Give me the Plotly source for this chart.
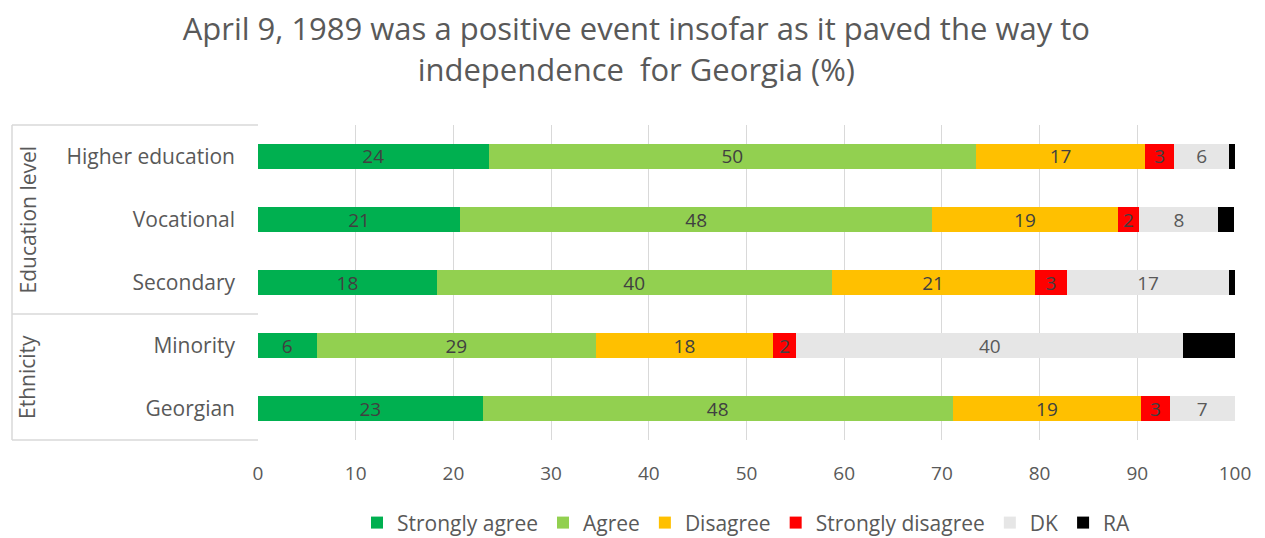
import plotly.graph_objects as go

categories = ["Georgian", "Minority", "Secondary", "Vocational", "Higher education"]
series_names = ["Strongly agree", "Agree", "Disagree", "Strongly disagree", "DK", "RA"]
strongly_agree = [23.0, 6.0, 18.3, 20.7, 23.6]
agree = [48.1, 28.6, 40.4, 48.3, 49.9]
disagree = [19.3, 18.1, 20.8, 19.0, 17.3]
strongly_disagree = [2.9, 2.4, 3.3, 2.2, 3.0]
dk = [6.7, 39.6, 16.6, 8.1, 5.6]
ra = [0.0, 5.3, 0.6, 1.6, 0.6]
values = [strongly_agree, agree, disagree, strongly_disagree, dk, ra]
colors = ["#00B050", "#92D050", "#FFC000", "#FF0000", "#E6E6E6", "#000000"]
text_colors = ["#404040", "#404040", "#404040", "#404040", "#595959", "#404040"]
x_ticks = [0, 10, 20, 30, 40, 50, 60, 70, 80, 90, 100]
title = "April 9, 1989 was a positive event insofar as it paved the way to<br>independence  for Georgia (%)"

FONT = "Open Sans"
fig = go.Figure()
for name, vals, col, tcol in zip(series_names, values, colors, text_colors):
    txt = [f"{round(v)}" if name != "RA" and v > 0 else "" for v in vals]
    fig.add_trace(go.Bar(
        y=categories, x=vals, name=name, orientation="h",
        marker=dict(color=col, line=dict(width=0)),
        text=txt, textposition="inside", insidetextanchor="middle",
        textangle=0, constraintext="none",
        textfont=dict(family=FONT, size=19, color=tcol),
        hoverinfo="x+name",
    ))

fig.update_layout(
    barmode="stack", bargap=0.59,
    width=1265, height=538,
    margin=dict(l=258, r=30, t=125, b=98),
    plot_bgcolor="white", paper_bgcolor="white",
    font=dict(family=FONT, color="#595959"),
    title=dict(text=title, x=0.503, xanchor="center", y=0.925, yanchor="middle",
               yref="container", font=dict(family=FONT, size=31, color="#595959")),
    legend=dict(orientation="h", x=0.5, xanchor="center", y=0.028, yanchor="middle",
                yref="container", font=dict(family=FONT, size=21, color="#595959"),
                traceorder="normal", itemwidth=30),
    xaxis=dict(range=[0, 100], tickvals=x_ticks, showgrid=True, gridcolor="#D9D9D9",
               gridwidth=1, zeroline=False, showline=False,
               tickfont=dict(family=FONT, size=19, color="#595959"),
               ticklabelstandoff=20),
    yaxis=dict(showgrid=False, showline=False, zeroline=False,
               tickfont=dict(family=FONT, size=21, color="#595959"),
               ticklabelstandoff=22),
)

line = dict(color="#D9D9D9", width=1.5)
# group separator lines (paper coords, x from left edge)
x0 = (12 - 258) / 977
for yv in [1.0, 2 / 5, 0.0]:
    fig.add_shape(type="line", xref="paper", yref="paper", x0=x0, x1=0, y0=yv, y1=yv, line=line)
fig.add_shape(type="line", xref="paper", yref="paper", x0=x0, x1=x0, y0=0, y1=1, line=line)

fig.add_annotation(text="Education level", xref="paper", yref="paper", x=(27 - 258) / 977,
                   y=0.7, xanchor="center", yanchor="middle", textangle=-90, showarrow=False,
                   font=dict(family=FONT, size=21, color="#595959"))
fig.add_annotation(text="Ethnicity", xref="paper", yref="paper", x=(27 - 258) / 977,
                   y=0.2, xanchor="center", yanchor="middle", textangle=-90, showarrow=False,
                   font=dict(family=FONT, size=21, color="#595959"))

fig.write_html("out.html")
